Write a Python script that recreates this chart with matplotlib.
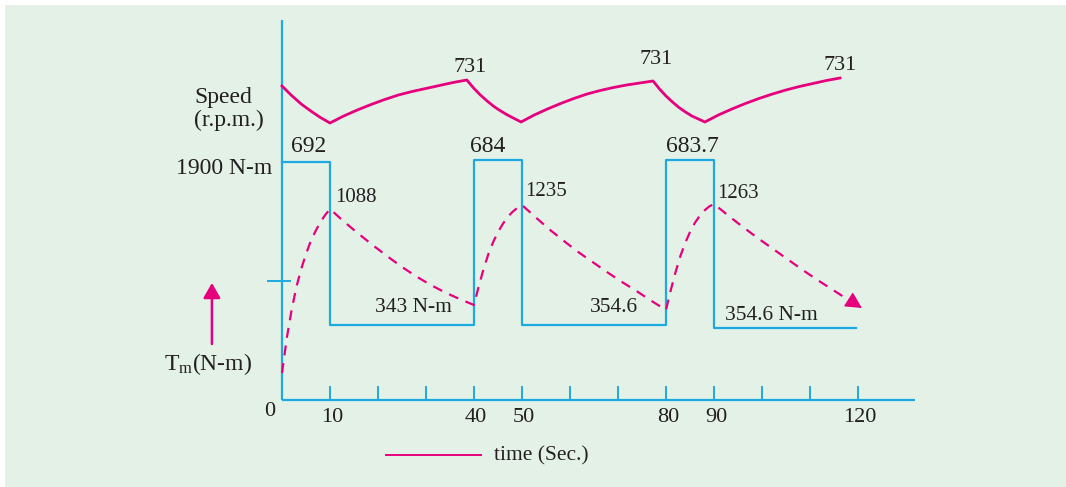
import matplotlib
matplotlib.use("Agg")
import matplotlib.pyplot as plt
from matplotlib.patches import Rectangle

# ---------------- data (time in s, heights in diagram units) ----------------
step_times = [0, 10, 40, 50, 80, 90, 119.5]
step_levels = [238, 75, 240, 75, 240, 72]

speed_t = [0, 2, 4, 6, 8, 10,
           12.85, 15.7, 18.55, 21.4, 24.25, 27.1, 29.95, 32.8, 35.65, 38.5,
           39.91, 41.33, 42.74, 44.15, 45.56, 46.98, 48.39, 49.8,
           52.55, 55.3, 58.05, 60.8, 63.55, 66.3, 69.05, 71.8, 74.55, 77.3,
           78.65, 80.0, 81.35, 82.7, 84.05, 85.4, 86.75, 88.1,
           90.92, 93.73, 96.55, 99.36, 102.18, 104.99, 107.81, 110.62, 113.44, 116.25]
speed_h = [314, 304.5, 296, 289, 282.5, 277,
           284, 290, 295.5, 300.5, 305, 308.5, 311.5, 314.5, 317.5, 320,
           312, 305, 299, 293.5, 289, 285, 281.5, 278,
           285, 291, 296.5, 301.5, 306, 309.5, 312.5, 315, 317, 319,
           311, 304, 298, 292.5, 288, 284, 281, 278,
           285, 291, 296.5, 301.5, 306, 310, 313.5, 316.5, 319.5, 322]

tm_t = [0, 1, 2, 3, 4, 5, 6, 7, 8, 9, 10,
        13, 16, 19, 22, 25, 28, 31, 34, 37, 40,
        41, 42, 43, 44, 45, 46, 47, 48, 49, 50,
        53, 56, 59, 62, 65, 68, 71, 74, 77, 80,
        81, 82, 83, 84, 85, 86, 87, 88, 89, 90,
        93.08, 96.16, 99.24, 102.32, 105.4, 108.48, 111.56, 114.64, 117.72, 120.8]
tm_h = [27, 62, 90, 113, 131, 146, 159, 169, 178, 185, 191,
        178, 166, 154.5, 143.5, 133, 123.5, 115, 107.5, 101, 95,
        114, 131, 146, 158, 168, 176, 183, 188, 192, 195,
        182, 169.5, 158, 147, 137, 127, 117.5, 108.5, 99, 90,
        110, 128, 144, 157, 168, 177, 184, 189.5, 193.5, 196,
        184, 172.5, 161.5, 151, 140.5, 130, 120, 110.5, 101, 92]

tick_times = [10, 20, 30, 40, 50, 60, 70, 80, 90, 100, 110, 120]
tick_labels = {0: "0", 10: "10", 40: "40", 50: "50", 80: "80", 90: "90", 120: "120"}

speed_peaks = ["731", "731", "731"]
speed_peak_pos = [(39.2, 333), (77.9, 340), (116.25, 335)]
on_labels = ["692", "684", "683.7"]
on_label_pos = [(5.6, 253), (42.8, 254), (85.4, 254)]
peak_torque = ["1088", "1235", "1263"]
peak_torque_pos = [(11.0, 203), (50.6, 208), (90.6, 207)]

# ---------------- style ----------------
BG = "#e3f1e7"
CYAN = "#1fa9e1"
MAG = "#e6007e"
TXT = "#231f20"
FONT = "Liberation Serif"
plt.rcParams["font.family"] = [FONT, "DejaVu Serif"]
plt.rcParams["mathtext.fontset"] = "custom"
plt.rcParams["mathtext.rm"] = FONT
plt.rcParams["mathtext.it"] = FONT + ":italic"

fig = plt.figure(figsize=(10.66, 4.87), dpi=100)
fig.patch.set_facecolor(BG)
fig.patches.append(Rectangle((0, 1 - 5 / 487), 1, 5 / 487, transform=fig.transFigure,
                             facecolor="white", edgecolor="none", zorder=0))
fig.patches.append(Rectangle((0, 0), 5 / 1066, 1, transform=fig.transFigure,
                             facecolor="white", edgecolor="none", zorder=0))

ax = fig.add_axes([0, 0, 1, 1])
ax.set_xlim(-282 / 4.8, (1066 - 282) / 4.8)
ax.set_ylim(-87, 400)
ax.axis("off")

# axes lines
ax.plot([0, 0], [0, 380], color=CYAN, lw=1.6, solid_capstyle="butt")
ax.plot([0, 131.9], [0, 0], color=CYAN, lw=1.6, solid_capstyle="butt")
for t in tick_times:
    ax.plot([t, t], [0, 13], color=CYAN, lw=1.4)
ax.plot([-2.9, 1.7], [119, 119], color=CYAN, lw=1.4)

# torque step
xs, ys = [], []
for i, lvl in enumerate(step_levels):
    xs += [step_times[i], step_times[i + 1]]
    ys += [lvl, lvl]
ax.plot(xs, ys, color=CYAN, lw=1.6)

# speed curve
ax.plot(speed_t, speed_h, color=MAG, lw=2.0, solid_joinstyle="round")

# motor torque dashed curve
ax.plot(tm_t[:-1] + [tm_t[-1] - 1.5], tm_h[:-1] + [tm_h[-1] + 4.5], color=MAG, lw=1.6,
        dashes=(4.5, 3.5))
ax.annotate("", xy=(tm_t[-1], tm_h[-1]), xytext=(tm_t[-1] - 2.6, tm_h[-1] + 8),
            arrowprops=dict(arrowstyle="-|>,head_length=0.5,head_width=0.26",
                            color=MAG, lw=1.0, mutation_scale=20, shrinkA=0, shrinkB=0))

# y-axis arrow for Tm
ax.annotate("", xy=(-14.6, 117), xytext=(-14.6, 56),
            arrowprops=dict(arrowstyle="-|>,head_length=0.45,head_width=0.26",
                            color=MAG, lw=1.8, mutation_scale=20, shrinkA=0, shrinkB=0))

# texts
ax.text(-18.3, 302, "Speed", fontsize=17, color=TXT, ha="left", va="center")
ax.text(-18.3, 280, "(r.p.m.)", fontsize=17, color=TXT, ha="left", va="center")
ax.text(-2.1, 232, "1900 N-m", fontsize=17, color=TXT, ha="right", va="center")
ax.text(-24.6, 36, r"T$_{\mathrm{m}}$(N-m)", fontsize=17, color=TXT, ha="left", va="center")

for s, (x, y) in zip(speed_peaks, speed_peak_pos):
    ax.text(x, y, s, fontsize=16, color=TXT, ha="center", va="center")
for s, (x, y) in zip(on_labels, on_label_pos):
    ax.text(x, y, s, fontsize=17, color=TXT, ha="center", va="center")
for s, (x, y) in zip(peak_torque, peak_torque_pos):
    ax.text(x, y, s, fontsize=15, color=TXT, ha="left", va="center")

ax.text(19.4, 92, "343 N-m", fontsize=15.5, color=TXT, ha="left", va="center")
ax.text(64.2, 92, "354.6", fontsize=15.5, color=TXT, ha="left", va="center")
ax.text(92.3, 85, "354.6 N-m", fontsize=15.5, color=TXT, ha="left", va="center")

for t, lab in tick_labels.items():
    if t == 0:
        ax.text(-2.5, -12, lab, fontsize=16, color=TXT, ha="center", va="center")
    else:
        ax.text(t + 0.4, -18, lab, fontsize=16, color=TXT, ha="center", va="center")

ax.plot([21.7, 41.5], [-55, -55], color=MAG, lw=1.4)
ax.text(44.2, -56, "time (Sec.)", fontsize=15.5, color=TXT, ha="left", va="center")

fig.savefig("out.png", dpi=100, facecolor=fig.get_facecolor())
